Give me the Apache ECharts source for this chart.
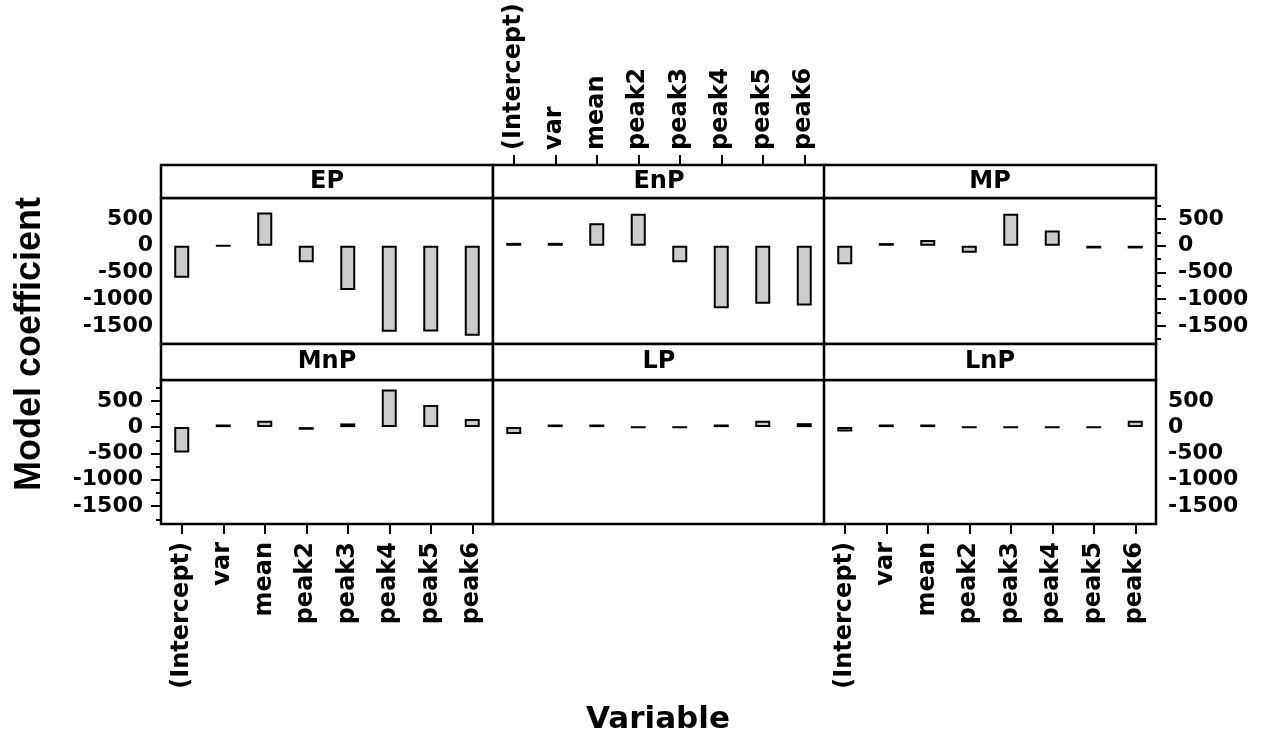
<!DOCTYPE html>
<html><head><meta charset="utf-8">
<script src="https://cdn.jsdelivr.net/npm/echarts@6/dist/echarts.min.js"></script>
<style>html,body{margin:0;padding:0;background:#fff}#c{width:1263px;height:738px}</style>
</head><body><div id="c"></div>
<script>
// ---- data ----
const categories = ['(Intercept)', 'var', 'mean', 'peak2', 'peak3', 'peak4', 'peak5', 'peak6'];
const panelNames = ['EP', 'EnP', 'MP', 'MnP', 'LP', 'LnP'];
const EP  = [-600, -3, 625, -310, -830, -1610, -1605, -1685];
const EnP = [55, 55, 420, 600, -310, -1170, -1085, -1120];
const MP  = [-345, 50, 110, -130, 600, 285, -50, -50];
const MnP = [-480, 50, 120, -50, 70, 715, 420, 155];
const LP  = [-130, 50, 50, -2, -2, 50, 120, 75];
const LnP = [-85, 50, 50, -2, -2, -2, -2, 120];
const yMajorTicks = [-1500, -1000, -500, 0, 500];
const yMinorTicks = [-1750, -1250, -750, -250, 250, 750];
const yMin = -1840, yMax = 895;

const panelData = [EP, EnP, MP, MnP, LP, LnP];

// ---- layout ----
const colLeft = [161, 493, 824];
const colW = 332;
const rows = [{strip: 165, top: 198, h: 146}, {strip: 344, top: 380, h: 144}];
const yFont = {fontFamily: 'DejaVu Sans', fontWeight: 'bold', fontSize: 22, color: '#000'};
const xFont = {fontFamily: 'DejaVu Sans', fontWeight: 'bold', fontSize: 24, color: '#000'};

const grids = [], xAxes = [], yAxes = [], series = [], graphics = [];

panelNames.forEach((name, i) => {
  const r = i < 3 ? 0 : 1, c = i % 3;
  grids.push({
    left: colLeft[c], top: rows[r].top, width: colW, height: rows[r].h,
    show: true, borderColor: '#000', borderWidth: 2.5, backgroundColor: '#fff',
    containLabel: false, outerBoundsMode: 'none'
  });
  const showX = (i === 1 || i === 3 || i === 5);
  xAxes.push({
    type: 'category', gridIndex: i, data: categories,
    position: i === 1 ? 'top' : 'bottom',
    offset: i === 1 ? (rows[0].top - rows[0].strip) : 0,
    axisLine: {show: false, onZero: false},
    axisTick: {show: showX, alignWithLabel: true, length: 10, lineStyle: {color: '#000', width: 2}},
    axisLabel: Object.assign({show: showX, rotate: i === 1 ? -90 : 90, margin: i === 1 ? 15 : 18, interval: 0}, xFont),
    splitLine: {show: false}
  });
  const pos = c === 2 ? 'right' : 'left';
  const showLab = (c !== 1);
  const showTick = (i === 3 || i === 2);
  const margin = {0: 8, 3: 18, 2: 22, 5: 12}[i] || 8;
  yAxes.push({
    type: 'value', gridIndex: i, min: yMin, max: yMax, position: pos,
    axisLine: {show: false, onZero: false},
    axisTick: {show: showTick, length: 10, customValues: yMajorTicks, lineStyle: {color: '#000', width: 2}},
    axisLabel: Object.assign({show: showLab, margin: margin, customValues: yMajorTicks,
      formatter: v => String(v)}, yFont),
    splitLine: {show: false}
  });
  series.push({
    type: 'bar', xAxisIndex: i, yAxisIndex: i, data: panelData[i],
    barWidth: 15,
    itemStyle: {color: '#CCCCCC', borderColor: '#000', borderWidth: 2},
    silent: true
  });
  const y0 = rows[r].strip, hh = rows[r].top - y0;
  graphics.push({type: 'rect', shape: {x: colLeft[c], y: y0, width: colW, height: hh},
    style: {fill: '#fff', stroke: '#000', lineWidth: 2.5}});
  graphics.push({type: 'text', x: colLeft[c] + colW / 2, y: y0 + hh / 2,
    style: {text: name, fontFamily: 'DejaVu Sans', fontWeight: 'bold', fontSize: 24, fill: '#000',
      align: 'center', verticalAlign: 'middle', textAlign: 'center', textVerticalAlign: 'middle'}});
});

// minor tick axes (bottom-left and top-right panels)
[[3, 'left'], [2, 'right']].forEach(([g, pos]) => {
  yAxes.push({
    type: 'value', gridIndex: g, min: yMin, max: yMax, position: pos,
    axisLine: {show: false, onZero: false},
    axisTick: {show: true, length: 5, customValues: yMinorTicks, lineStyle: {color: '#000', width: 2}},
    axisLabel: {show: false},
    splitLine: {show: false}
  });
});

graphics.push({type: 'text', x: 30, y: 344, rotation: Math.PI / 2,
  style: {text: 'Model coefficient', fontFamily: 'Liberation Sans', fontWeight: 'bold', fontSize: 36, fill: '#000',
    align: 'center', verticalAlign: 'middle', textAlign: 'center', textVerticalAlign: 'middle'}});
graphics.push({type: 'text', x: 658, y: 720,
  style: {text: 'Variable', fontFamily: 'DejaVu Sans', fontWeight: 'bold', fontSize: 31, fill: '#000',
    align: 'center', verticalAlign: 'middle', textAlign: 'center', textVerticalAlign: 'middle'}});

const chart = echarts.init(document.getElementById('c'), null, {renderer: 'canvas'});
chart.setOption({
  animation: false,
  backgroundColor: '#fff',
  grid: grids, xAxis: xAxes, yAxis: yAxes, series: series,
  graphic: {elements: graphics}
});
</script>
</body></html>
